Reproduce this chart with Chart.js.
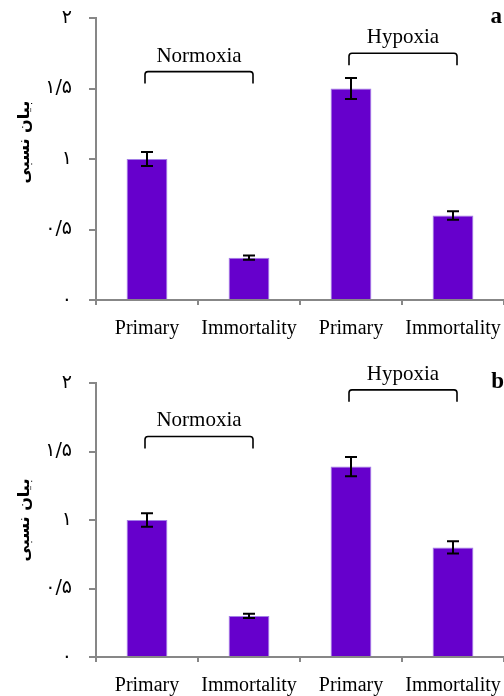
<!DOCTYPE html>
<html>
<head>
<meta charset="utf-8">
<script src="https://cdn.jsdelivr.net/npm/chart.js@4/dist/chart.umd.min.js"></script>
<style>
  body { margin: 0; background: #fff; }
  .panel { position: absolute; left: 0; width: 504px; }
  #chartA { top: 0; height: 340px; }
  #chartB { top: 340px; height: 356px; }
</style>
</head>
<body>
<div class="panel" id="chartA"><canvas id="canvasA"></canvas></div>
<div class="panel" id="chartB"><canvas id="canvasB"></canvas></div>
<script>
// categories and values
const categories = ['Primary', 'Immortality', 'Primary', 'Immortality'];
const valuesA = [1.0, 0.30, 1.5, 0.60];
const errorsA = [0.05, 0.015, 0.075, 0.03];
const valuesB = [1.0, 0.30, 1.39, 0.80];
const errorsB = [0.05, 0.015, 0.07, 0.045];
const groupNames = ['Normoxia', 'Hypoxia'];
const bracketsA = [1.62, 1.75];
const bracketsB = [1.61, 1.95];
const yTicks = [0, 0.5, 1, 1.5, 2];
const yTickLabels = ['۰', '۰/۵', '۱', '۱/۵', '۲'];
const yTitle = 'بیان نسبی';

const axisGray = '#878787';

// error bars, group brackets, y title and panel letter
const extrasPlugin = {
  id: 'extras',
  afterDatasetsDraw(chart, args, opts) {
    const { ctx } = chart;
    const xs = chart.scales.x;
    const ys = chart.scales.y;
    ctx.save();
    ctx.strokeStyle = '#000';
    ctx.lineWidth = 2;
    opts.values.forEach((v, i) => {
      const x = xs.getPixelForValue(i);
      const top = ys.getPixelForValue(v + opts.errors[i]);
      const bot = ys.getPixelForValue(v - opts.errors[i]);
      ctx.beginPath();
      ctx.moveTo(x, top); ctx.lineTo(x, bot);
      ctx.moveTo(x - 6, top); ctx.lineTo(x + 6, top);
      ctx.moveTo(x - 6, bot); ctx.lineTo(x + 6, bot);
      ctx.stroke();
    });
    ctx.lineWidth = 1.6;
    ctx.font = '21px "Liberation Serif"';
    ctx.fillStyle = '#000';
    ctx.textAlign = 'center';
    ctx.textBaseline = 'bottom';
    groupNames.forEach((name, g) => {
      const x1 = xs.getPixelForValue(g * 2) - 2;
      const x2 = xs.getPixelForValue(g * 2 + 1) + 4;
      const y = ys.getPixelForValue(opts.brackets[g]);
      ctx.beginPath();
      ctx.moveTo(x1, y + 12);
      ctx.lineTo(x1, y + 3);
      ctx.quadraticCurveTo(x1, y, x1 + 3, y);
      ctx.lineTo(x2 - 3, y);
      ctx.quadraticCurveTo(x2, y, x2, y + 3);
      ctx.lineTo(x2, y + 12);
      ctx.stroke();
      ctx.fillText(name, (x1 + x2) / 2, y - 5);
    });
    ctx.font = 'bold 23px "Liberation Serif"';
    ctx.textAlign = 'right';
    ctx.textBaseline = 'middle';
    ctx.fillText(opts.letter, opts.letterX, opts.letterY);

    // rotated y-axis title
    ctx.translate(25, ys.top + (ys.bottom - ys.top) * opts.titlePos);
    ctx.rotate(-Math.PI / 2);
    ctx.textAlign = 'center';
    ctx.font = 'bold 16px "DejaVu Sans"';
    ctx.fillText(yTitle, 0, 0);
    ctx.restore();
  }
};

function makeChart(canvasId, values, errors, brackets, letter, letterX, letterY, titlePos, topPad, xHeight) {
  return new Chart(document.getElementById(canvasId), {
    type: 'bar',
    data: {
      labels: categories,
      datasets: [{
        data: values,
        backgroundColor: '#6600cc',
        borderColor: '#a27ee6',
        borderWidth: 1,
        categoryPercentage: 1,
        barPercentage: 0.4
      }]
    },
    options: {
      responsive: true,
      maintainAspectRatio: false,
      animation: false,
      layout: { padding: { top: topPad, left: 0, right: 0, bottom: 0 } },
      plugins: {
        legend: { display: false },
        tooltip: { enabled: false },
        extras: { values, errors, brackets, letter, letterX, letterY, titlePos }
      },
      scales: {
        x: {
          grid: { drawOnChartArea: false, drawTicks: true, tickLength: 5, color: axisGray, lineWidth: 2, offset: true },
          border: { color: axisGray, width: 2 },
          ticks: { color: '#000', font: { family: 'Liberation Serif', size: 20 }, padding: 12, maxRotation: 0 },
          afterFit: (s) => { s.height = xHeight; s.paddingLeft = 0; s.paddingRight = 0; }
        },
        y: {
          min: 0,
          max: 2,
          afterBuildTicks: (s) => { s.ticks = yTicks.map(v => ({ value: v })); },
          grid: { drawOnChartArea: false, drawTicks: true, tickLength: 7, color: axisGray, lineWidth: 2 },
          border: { color: axisGray, width: 2 },
          ticks: {
            color: '#000',
            font: { family: 'DejaVu Sans', size: 19 },
            padding: 17,
            callback: (v) => yTickLabels[yTicks.indexOf(v)]
          },
          afterFit: (s) => { s.width = 96; s.paddingTop = 0; s.paddingBottom = 0; }
        }
      }
    },
    plugins: [extrasPlugin]
  });
}

makeChart('canvasA', valuesA, errorsA, bracketsA, 'a', 502, 17, 0.44, 18, 40);
makeChart('canvasB', valuesB, errorsB, bracketsB, 'b', 504, 42, 0.50, 43, 39);
</script>
</body>
</html>
